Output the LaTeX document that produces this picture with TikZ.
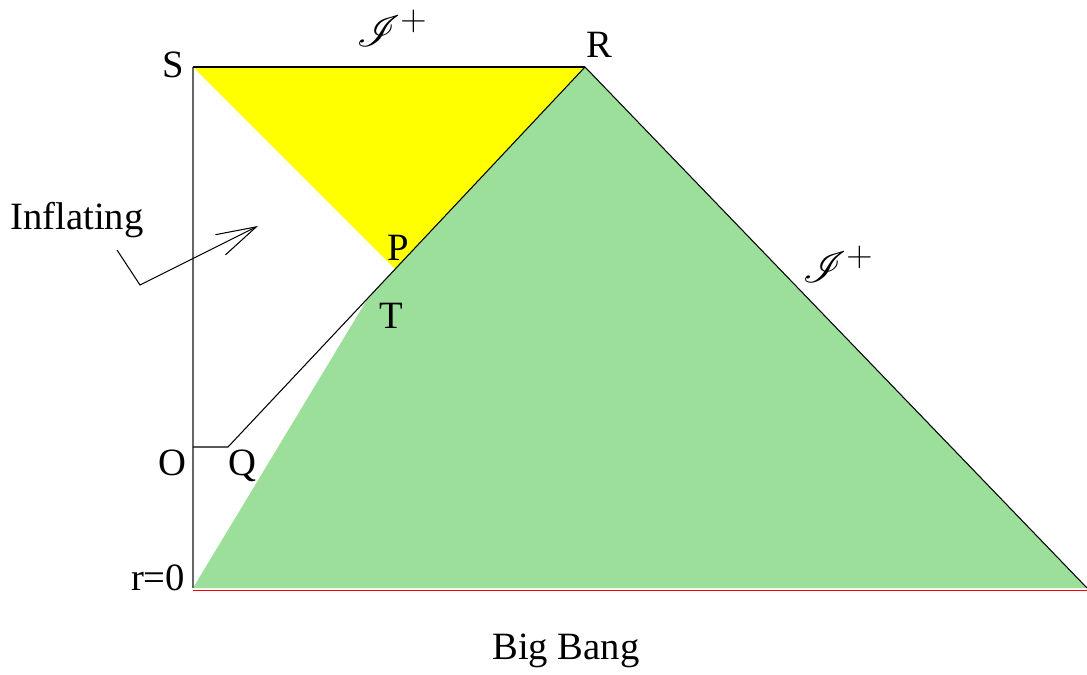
\documentclass[tikz,border=0pt]{standalone}
\usepackage{fontspec}
\setmainfont{Liberation Serif}
\usepackage{mathrsfs}
\usepackage{xcolor}
\definecolor{bggreen}{RGB}{155,223,155}
\definecolor{bgyellow}{RGB}{255,255,0}
\usetikzlibrary{arrows.meta,positioning}

\begin{document}
\begin{tikzpicture}[x=0.02cm,y=-0.02cm,
  lbl/.style={inner sep=0pt, font=\fontsize{22}{26}\selectfont},
  scri/.style={inner sep=0pt, font=\fontsize{32}{36}\selectfont},
  edge/.style={draw=black, line width=0.6pt},
  axis/.style={draw=black!60, line width=0.7pt}]
  \useasboundingbox (0,0) rectangle (1087,675);
  % corner points of the diagram
  \coordinate (S) at (193,67);
  \coordinate (R) at (585,67);
  \coordinate (P) at (395,269);
  \coordinate (M) at (368,298);
  \coordinate (B) at (1087,588);
  \coordinate (Z) at (193,588);
  \coordinate (O) at (193,447);
  \coordinate (Q) at (228,447);
  % filled regions
  \fill[bggreen] (Z) -- (M) -- (R) -- (B) -- cycle;
  \fill[bgyellow] (S) -- (R) -- (P) -- cycle;
  % boundary lines
  \draw[red, line width=0.7pt] ([yshift=-1.4pt]Z) -- ([yshift=-1.4pt]B);
  \draw[axis] (Z) -- (S);
  \draw[edge] (S) -- (R);
  \draw[edge] (R) -- (B);
  \draw[edge] (O) -- (Q) -- (R);
  % labels
  \node[lbl] (lS) at (173,65) {S};
  \node[lbl] (lR) at (599,45) {R};
  \node[lbl] (lP) at (398,248) {P};
  \node[lbl] (lT) at (391,316) {T};
  \node[lbl] (lO) at (172,463) {O};
  \node[lbl] (lQ) at (242,466) {Q};
  \node[lbl] (lr) at (158,578) {r=0};
  \node[lbl] (lBB) at (566,651) {Big Bang};
  \node[lbl] (lInf) at (77,220) {Inflating};
  \node[scri] (scriTop) at (392,28) {$\mathscr{I}^{+}$};
  \node[scri] (scriRight) at (838,264) {$\mathscr{I}^{+}$};
  % inflating pointer
  \coordinate (i1) at (117,250);
  \coordinate (i2) at (140,285);
  \coordinate (i3) at (258,226);
  \draw[line width=0.6pt, -{Straight Barb[length=0.8cm,width=0.45cm]}] (i1) -- (i2) -- (i3);
\end{tikzpicture}
\end{document}
